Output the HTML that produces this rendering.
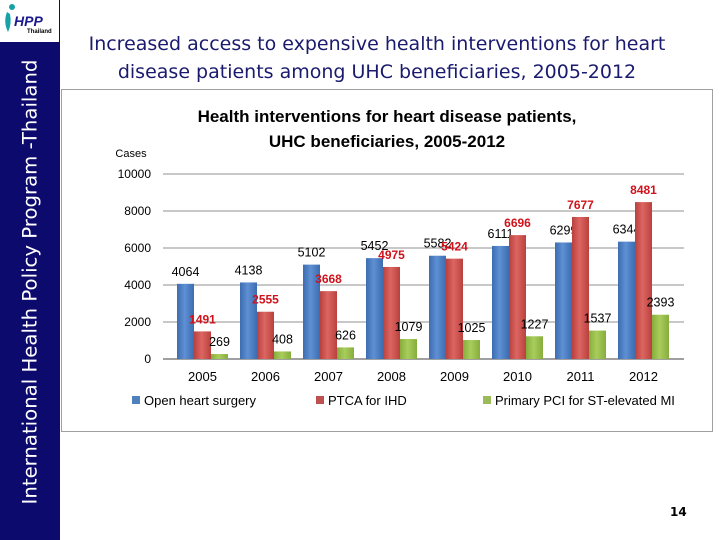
<!DOCTYPE html>
<html><head><meta charset="utf-8"><style>
body{margin:0;width:720px;height:540px;position:relative;background:#fff;overflow:hidden;font-family:"Liberation Sans","DejaVu Sans",sans-serif}
#side{position:absolute;left:0;top:0;width:60px;height:540px;background:#0d0a6e}
#logo{position:absolute;left:0;top:0;width:59px;height:42px;background:#fff}
#sidetext{position:absolute;left:30px;top:282px;transform:translate(-50%,-50%) rotate(-90deg);white-space:nowrap;color:#fff;font-size:19.7px;font-family:"DejaVu Sans",sans-serif}
#title{position:absolute;left:62px;top:30px;width:630px;text-align:center;color:#1a1a6e;font-size:19px;line-height:28px;font-family:"DejaVu Sans",sans-serif}
#pg{position:absolute;left:670px;top:505px;font-size:12px;font-weight:bold;font-family:"DejaVu Sans",sans-serif}
</style></head><body>
<div id="side">
<div id="logo">
<svg width="59" height="42"><circle cx="12" cy="7" r="3" fill="#17a2a8"/><path d="M7 12 Q3 22 8 32 Q12 24 10 14Z" fill="#17a2a8"/><text x="14" y="26" font-size="14" font-weight="bold" font-style="italic" fill="#1a1a8e" font-family="Liberation Sans">HPP</text><text x="27" y="33" font-size="6" font-weight="bold" fill="#000" font-family="Liberation Sans">Thailand</text></svg></div>
<div id="sidetext">International Health Policy Program -Thailand</div>
</div>
<div id="title">Increased access to expensive health interventions for heart<br>disease patients among UHC beneficiaries, 2005-2012</div>
<svg id="chart" style="position:absolute;left:0;top:0" width="720" height="540"></svg>
<div id="pg">14</div>
<script>
const years=["2005","2006","2007","2008","2009","2010","2011","2012"];
const openHeart=[4064,4138,5102,5452,5582,6111,6299,6344];
const ptca=[1491,2555,3668,4975,5424,6696,7677,8481];
const pci=[269,408,626,1079,1025,1227,1537,2393];
const ticks=[0,2000,4000,6000,8000,10000];
const seriesNames=["Open heart surgery","PTCA for IHD","Primary PCI for ST-elevated MI"];
const NS="http://www.w3.org/2000/svg";
const svg=document.getElementById('chart');
function el(t,a,txt){const e=document.createElementNS(NS,t);for(const k in a)e.setAttribute(k,a[k]);if(txt!==undefined)e.textContent=txt;svg.appendChild(e);return e;}
const y0=359,y1=174,x0=163,x1=684;
const yS=v=>y0-(v/10000)*(y0-y1);
const gx=i=>177+i*63;
const bw=17;
const f='"Liberation Sans","DejaVu Sans",sans-serif';
let fr=el('rect',{x:61.5,y:89.5,width:651,height:342,fill:'#fff',stroke:'#a0a0a0'});


let ct=el('text',{x:387,y:122,'text-anchor':'middle','font-size':17,'font-weight':'bold','font-family':f},'Health interventions for heart disease patients,');


el('text',{x:387,y:147,'text-anchor':'middle','font-size':17,'font-weight':'bold','font-family':f},'UHC beneficiaries, 2005-2012');
let yt=el('text',{x:131,y:157,'text-anchor':'middle','font-size':11,'font-family':f},'Cases');


ticks.forEach(t=>{
 const g=el('line',{x1:x0,x2:x1,y1:yS(t),y2:yS(t),stroke:t===0?'#808080':'#909090','stroke-width':t===0?1.5:1});
 
 
 const l=el('text',{x:151,y:yS(t)+4,'text-anchor':'end','font-size':12,'font-family':f},String(t));
 
 
});
function grad(id,c1,c2){const d=el('linearGradient',{id:id,x1:0,x2:1,y1:0,y2:0});[[0,c1],[0.45,c2],[1,c1]].forEach(s=>{const st=document.createElementNS(NS,'stop');st.setAttribute('offset',s[0]);st.setAttribute('stop-color',s[1]);d.appendChild(st);});}
grad('gb','#3d6cb0','#5f90d4');grad('gr','#b9403d','#dc6662');grad('gg','#86ad3c','#a9cd5c');
const series=[[openHeart,'url(#gb)','#000',false,'#4f81bd'],[ptca,'url(#gr)','#d0121b',true,'#c0504d'],[pci,'url(#gg)','#000',false,'#9bbb59']];
years.forEach((yr,i)=>{
 series.forEach((s,j)=>{
  const v=s[0][i],x=gx(i)+j*bw;
  const r=el('rect',{x:x,y:yS(v),width:bw,height:y0-yS(v),fill:s[1]});
  
  
  const lb=el('text',{x:x+bw/2,y:yS(v)-8,'text-anchor':'middle','font-size':s[3]?12:12.5,'font-weight':s[3]?'bold':'normal',fill:s[2],'font-family':f},String(v));
  
  
 });
 const xl=el('text',{x:gx(i)+bw*1.5,y:381,'text-anchor':'middle','font-size':13,'font-family':f},yr);
 
 
});
const lx=[132,316,483];
seriesNames.forEach((n,j)=>{
 const s=el('rect',{x:lx[j],y:396,width:8,height:8,fill:series[j][4]});
 
 
 const t=el('text',{x:lx[j]+12,y:405,'font-size':13,'font-family':f},n);
 
 
});
</script>
</body></html>
